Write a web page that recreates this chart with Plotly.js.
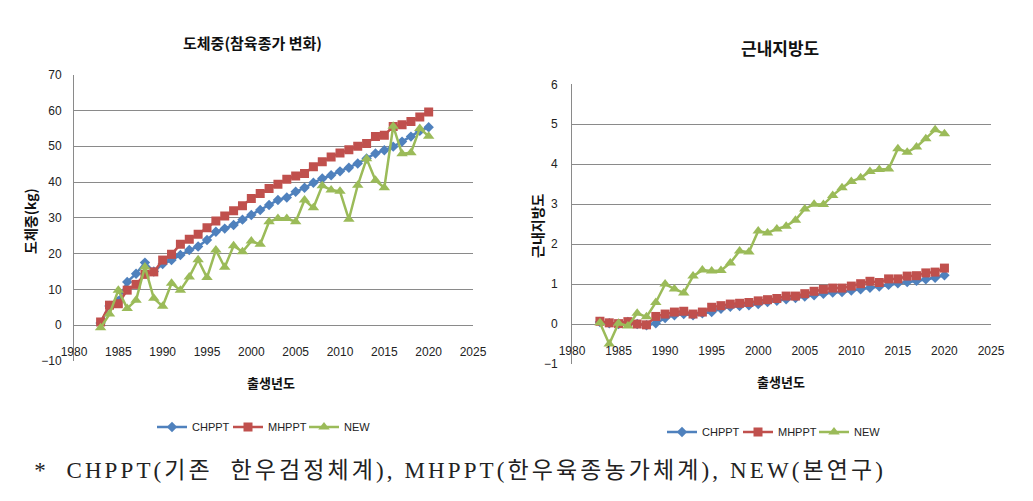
<!DOCTYPE html>
<html>
<head>
<meta charset="utf-8">
<script src="https://cdn.plot.ly/plotly-3.0.1.min.js"></script>
<style>
html,body{margin:0;padding:0;background:#fff}
#chart{width:1033px;height:501px}
#chart .annotation[data-index="6"] text{letter-spacing:3.1px}
</style>
</head>
<body>
<div id="chart"></div>
<script>
// Birth years (x categories)
const years = [1983,1984,1985,1986,1987,1988,1989,1990,1991,1992,1993,1994,1995,1996,1997,1998,1999,2000,2001,2002,2003,2004,2005,2006,2007,2008,2009,2010,2011,2012,2013,2014,2015,2016,2017,2018,2019,2020];

// Carcass weight (도체중) breeding value change
const cwCHPPT = [0.6,5.4,6.8,12.1,14.4,17.5,15.0,17.1,18.2,19.6,21.0,22.0,23.8,26.1,27.0,28.0,29.5,30.8,32.2,33.6,35.0,35.7,37.3,38.4,39.8,41.0,41.9,43.0,44.0,45.2,46.6,48.0,48.9,49.9,51.3,52.7,54.3,55.3];
const cwMHPPT = [0.9,5.6,6.0,9.8,11.4,14.2,14.9,18.2,19.8,22.6,24.0,25.4,27.2,29.1,30.5,32.0,33.4,35.4,36.8,38.2,39.4,40.8,41.7,42.4,44.3,45.7,47.0,48.1,49.0,50.0,50.8,52.7,53.1,55.5,56.0,56.9,58.2,59.6];
const cwNEW   = [-0.7,3.1,9.8,4.7,7.0,16.3,7.5,5.3,11.7,9.8,13.5,18.3,13.3,21.0,16.2,22.2,20.5,23.5,22.6,28.9,29.8,29.8,28.9,35.0,32.8,39.0,37.8,37.4,29.6,39.1,46.5,40.5,38.4,55.6,47.9,48.2,55.0,52.8];

// Marbling score (근내지방도)
const msCHPPT = [0.05,0.02,0.0,0.05,0.0,-0.03,0.02,0.15,0.22,0.25,0.22,0.27,0.30,0.38,0.43,0.45,0.47,0.50,0.55,0.58,0.62,0.65,0.69,0.72,0.76,0.79,0.80,0.84,0.87,0.91,0.94,0.98,1.02,1.05,1.08,1.12,1.16,1.22];
const msMHPPT = [0.07,0.03,0.01,0.06,0.0,-0.02,0.19,0.25,0.30,0.32,0.25,0.30,0.42,0.46,0.50,0.52,0.54,0.58,0.61,0.64,0.70,0.70,0.76,0.82,0.87,0.90,0.90,0.95,1.01,1.07,1.04,1.13,1.13,1.20,1.21,1.28,1.30,1.40];
const msNEW   = [0.03,-0.5,0.02,-0.05,0.27,0.18,0.54,1.0,0.88,0.78,1.2,1.35,1.33,1.34,1.53,1.83,1.80,2.33,2.28,2.38,2.45,2.60,2.88,3.0,2.99,3.22,3.41,3.57,3.66,3.82,3.87,3.88,4.39,4.30,4.43,4.64,4.86,4.76];

const seriesNames = ['CHPPT','MHPPT','NEW'];
const leftTitle = '도체중(참육종가 변화)';
const rightTitle = '근내지방도';
const leftYTitle = '도체중(kg)';
const rightYTitle = '근내지방도';
const xTitle = '출생년도';
const footnote = '*  CHPPT(기존  한우검정체계), MHPPT(한우육종농가체계), NEW(본연구)';

const colors = ['#4F81BD','#C0504D','#9BBB59'];
const symbols = ['diamond','square','triangle-up'];
const sizes = [8,9,10];

const W = 1033, H = 501;
const px = v => v / W;
const py = v => 1 - v / H;

function mk(y, i, xa, ya, leg) {
  return {
    x: years, y: y, name: seriesNames[i], xaxis: xa, yaxis: ya, legend: leg,
    type: 'scatter', mode: 'lines+markers',
    line: {color: colors[i], width: 2.5},
    marker: {symbol: symbols[i], size: sizes[i], color: colors[i]}
  };
}

const data = [
  mk(cwCHPPT,0,'x','y','legend'), mk(cwMHPPT,1,'x','y','legend'), mk(cwNEW,2,'x','y','legend'),
  mk(msCHPPT,0,'x2','y2','legend2'), mk(msMHPPT,1,'x2','y2','legend2'), mk(msNEW,2,'x2','y2','legend2')
];

const tickFont = {family: '"Liberation Sans Narrow", "Arial Narrow", "Liberation Sans", Arial, sans-serif', size: 12, color: '#222'};
const korFont = (s) => ({family: '"Noto Sans CJK KR", "Noto Sans", sans-serif', size: s, color: '#111', weight: 'bold'});
const grid = '#8a8a8a';
const legFont = {family: '"Liberation Sans Narrow", "Arial Narrow", "Liberation Sans", sans-serif', size: 11, color: '#222'};

const L = {x0: 74, x1: 473, y0: 74.7, y1: 361};
const R = {x0: 572, x1: 991, y0: 84.3, y1: 364};

function ann(text, x, y, size, angle) {
  return {text: text, x: px(x), y: py(y), xref: 'paper', yref: 'paper', xanchor: 'center', yanchor: 'middle',
    showarrow: false, textangle: angle || 0, font: korFont(size)};
}

const layout = {
  width: W, height: H,
  margin: {l: 0, r: 0, t: 0, b: 0},
  paper_bgcolor: '#fff', plot_bgcolor: '#fff',
  showlegend: true,
  xaxis: {domain: [px(L.x0), px(L.x1)], range: [1980, 2025], dtick: 5, tick0: 1980,
    anchor: 'free', position: py(343), showgrid: false, zeroline: false, showline: false,
    ticks: '', tickfont: tickFont},
  yaxis: {domain: [py(L.y1), py(L.y0)], range: [-10, 70], dtick: 10, anchor: 'x',
    showgrid: true, gridcolor: grid, gridwidth: 1, zeroline: false, showline: true, linecolor: grid, linewidth: 1,
    ticks: '', ticklabelstandoff: 9, tickfont: tickFont},
  xaxis2: {domain: [px(R.x0), px(R.x1)], range: [1980, 2025], dtick: 5, tick0: 1980,
    anchor: 'free', position: py(342), showgrid: false, zeroline: false, showline: false,
    ticks: '', tickfont: tickFont},
  yaxis2: {domain: [py(R.y1), py(R.y0)], range: [-1, 6], dtick: 1, anchor: 'x2',
    showgrid: true, gridcolor: grid, gridwidth: 1, zeroline: false, showline: true, linecolor: grid, linewidth: 1,
    ticks: '', ticklabelstandoff: 11, tickfont: tickFont},
  legend: {orientation: 'h', x: px(152), y: py(427), xanchor: 'left', yanchor: 'middle',
    font: legFont, itemwidth: 30, entrywidth: 31, entrywidthmode: 'pixels', tracegroupgap: 0, bgcolor: 'rgba(0,0,0,0)'},
  legend2: {orientation: 'h', x: px(662), y: py(432), xanchor: 'left', yanchor: 'middle',
    font: legFont, itemwidth: 30, entrywidth: 31, entrywidthmode: 'pixels', tracegroupgap: 0, bgcolor: 'rgba(0,0,0,0)'},
  annotations: [
    ann(leftTitle, 252, 42, 15),
    ann(rightTitle, 780, 47, 17),
    ann(leftYTitle, 30, 221, 14, -90),
    ann(rightYTitle, 537, 226, 14, -90),
    ann(xTitle, 271, 382, 13),
    ann(xTitle, 781, 381, 13),
    {text: footnote, x: px(460), y: py(470), xref: 'paper', yref: 'paper', xanchor: 'center', yanchor: 'middle', showarrow: false,
     font: {family: '"Liberation Serif", "DejaVu Serif", "Noto Sans CJK KR", serif', size: 23, color: '#222'}}
  ]
};

Plotly.newPlot('chart', data, layout, {displayModeBar: false, staticPlot: true});
</script>
</body>
</html>
